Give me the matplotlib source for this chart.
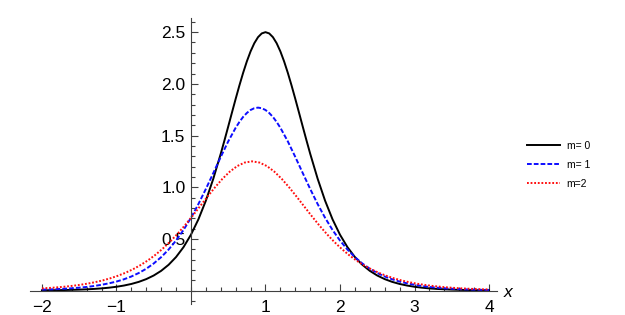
import numpy as np
import matplotlib
matplotlib.use("Agg")
import matplotlib.pyplot as plt
from matplotlib.ticker import FixedLocator, MultipleLocator

plt.rcParams['font.family'] = ['Liberation Sans', 'DejaVu Sans']
plt.rcParams['lines.scale_dashes'] = False

# ---- values ----
# m = 0 (black, solid)
x_m0 = [-2.0, -1.9, -1.8, -1.7, -1.6, -1.5, -1.4, -1.3, -1.2, -1.1,
        -1.0, -0.9, -0.8, -0.7, -0.6, -0.5, -0.4, -0.3, -0.2, -0.1,
        0.0, 0.1, 0.2, 0.3,
        0.4, 0.45, 0.5, 0.55, 0.6, 0.65, 0.7, 0.75, 0.8, 0.85, 0.9, 0.95,
        1.0, 1.05, 1.1, 1.15, 1.2, 1.25, 1.3, 1.35, 1.4, 1.45, 1.5, 1.55,
        1.6,
        1.7, 1.8, 1.9, 2.0, 2.1, 2.2, 2.3, 2.4, 2.5, 2.6,
        2.7, 2.8, 2.9, 3.0, 3.1, 3.2, 3.3, 3.4, 3.5, 3.6,
        3.7, 3.8, 3.9, 4.0]
y_m0 = [0.0022, 0.0030, 0.0039, 0.0052, 0.0069, 0.0091, 0.0120, 0.0159,
        0.0210, 0.0278, 0.0367, 0.0485, 0.0639, 0.0842, 0.1108, 0.1456,
        0.1908, 0.2493, 0.3244, 0.4201, 0.5404, 0.6892, 0.8696, 1.0822,
        1.3242, 1.4537, 1.5868, 1.7215, 1.8549, 1.9842, 2.1061, 2.2171,
        2.3138, 2.3929, 2.4516, 2.4878, 2.5000, 2.4878, 2.4516, 2.3929,
        2.3138, 2.2171, 2.1061, 1.9842, 1.8549, 1.7215, 1.5868, 1.4537,
        1.3242,
        1.0822, 0.8696, 0.6892, 0.5404, 0.4201, 0.3244, 0.2493, 0.1908,
        0.1456, 0.1108, 0.0842, 0.0639, 0.0485, 0.0367, 0.0278, 0.0210,
        0.0159, 0.0120, 0.0091, 0.0069, 0.0052, 0.0039, 0.0030, 0.0022]

# m = 1 (blue, dashed)
x_m1 = [-2.0, -1.9, -1.8, -1.7, -1.6, -1.5, -1.4, -1.3, -1.2, -1.1,
        -1.0, -0.9, -0.8, -0.7, -0.6, -0.5, -0.4, -0.3, -0.2, -0.1,
        0.0, 0.1, 0.2, 0.3, 0.4, 0.5,
        0.6, 0.65, 0.7, 0.75, 0.8, 0.85, 0.9, 0.95, 1.0, 1.05, 1.1, 1.15,
        1.2,
        1.3, 1.4, 1.5, 1.6, 1.7, 1.8, 1.9, 2.0, 2.1, 2.2,
        2.3, 2.4, 2.5, 2.6, 2.7, 2.8, 2.9, 3.0, 3.1, 3.2,
        3.3, 3.4, 3.5, 3.6, 3.7, 3.8, 3.9, 4.0]
y_m1 = [0.009, 0.011, 0.014, 0.018, 0.022, 0.028, 0.035, 0.044, 0.056,
        0.070, 0.087, 0.109, 0.136, 0.170, 0.211, 0.262, 0.323, 0.397,
        0.484, 0.586, 0.704, 0.837, 0.983, 1.137, 1.293, 1.443,
        1.575, 1.631, 1.680, 1.718, 1.747, 1.764, 1.770, 1.764, 1.747,
        1.718, 1.680, 1.631, 1.575,
        1.443, 1.293, 1.137, 0.983, 0.837, 0.704, 0.586, 0.484, 0.397,
        0.323, 0.262, 0.211, 0.170, 0.136, 0.109, 0.087, 0.070, 0.056,
        0.044, 0.035, 0.028, 0.022, 0.018, 0.014, 0.011, 0.009, 0.007,
        0.006]

# m = 2 (red, dotted)
x_m2 = [-2.0, -1.98, -1.88, -1.78, -1.68, -1.58, -1.48, -1.38, -1.28,
        -1.18, -1.08, -0.98, -0.88, -0.78, -0.68, -0.58, -0.48, -0.38,
        -0.28, -0.18, -0.08, 0.02, 0.12, 0.22, 0.32, 0.42, 0.52, 0.62,
        0.72, 0.82, 0.92, 1.02, 1.12, 1.22, 1.32, 1.42, 1.52, 1.62, 1.72,
        1.82, 1.92, 2.02, 2.12, 2.22, 2.32, 2.42, 2.52, 2.62, 2.72, 2.82,
        2.92, 3.02, 3.12, 3.22, 3.32, 3.42, 3.52, 3.62, 3.72, 3.82, 3.92,
        4.0]
y_m2 = [0.0209, 0.0217, 0.0263, 0.0318, 0.0386, 0.0466, 0.0564, 0.0681,
        0.0822, 0.0991, 0.1193, 0.1433, 0.1718, 0.2055, 0.2450, 0.2909,
        0.3440, 0.4047, 0.4732, 0.5493, 0.6324, 0.7212, 0.8136, 0.9066,
        0.9966, 1.0792, 1.1499, 1.2041, 1.2383, 1.2500, 1.2383, 1.2041,
        1.1499, 1.0792, 0.9966, 0.9066, 0.8136, 0.7212, 0.6324, 0.5493,
        0.4732, 0.4047, 0.3440, 0.2909, 0.2450, 0.2055, 0.1718, 0.1433,
        0.1193, 0.0991, 0.0822, 0.0681, 0.0564, 0.0466, 0.0386, 0.0318,
        0.0263, 0.0217, 0.0179, 0.0148, 0.0122, 0.0104]

labels = ["m= 0", "m= 1", "m=2"]
x_major = [-2, -1, 1, 2, 3, 4]
y_major = [0.5, 1.0, 1.5, 2.0, 2.5]

W, H = 625, 315
fig = plt.figure(figsize=(W / 100, H / 100), dpi=100)
ax = fig.add_axes([30 / W, 1 - 304 / H, 467 / W, 286 / H])
ax.set_xlim(-2.16, 4.107)
ax.set_ylim(-0.13, 2.637)

l0, = ax.plot(x_m0, y_m0, color='black', lw=1.4)
l1, = ax.plot(x_m1, y_m1, color=(0.05, 0.05, 1.0), lw=1.4, dashes=(3.4, 1.5))
l2, = ax.plot(x_m2, y_m2, color=(1.0, 0.05, 0.05), lw=1.4, dashes=(1.3, 1.3))

for s in ['top', 'right']:
    ax.spines[s].set_visible(False)
ax.spines['left'].set_position(('data', 0))
ax.spines['bottom'].set_position(('data', 0))
for s in ['left', 'bottom']:
    ax.spines[s].set_color('0.25')
    ax.spines[s].set_linewidth(0.8)

ax.xaxis.set_major_locator(FixedLocator(x_major))
ax.xaxis.set_minor_locator(MultipleLocator(0.2))
ax.yaxis.set_major_locator(FixedLocator(y_major))
ax.yaxis.set_minor_locator(MultipleLocator(0.1))
ax.set_xticklabels(['\u2212' + str(-v) if v < 0 else str(v) for v in x_major])
ax.set_yticklabels([f"{v:.1f}" for v in y_major])

ax.tick_params(which='both', direction='in', color='0.25', width=0.8,
               labelsize=12.5, labelcolor='black')
ax.tick_params(which='major', length=5)
ax.tick_params(which='minor', length=3)
ax.tick_params(axis='x', which='major', pad=7)
ax.tick_params(axis='y', which='major', pad=4)

ax.text(4.255, -0.02, 'x', style='italic', fontsize=12.5, ha='center',
        va='center', clip_on=False)

fig.legend([l0, l1, l2], labels, loc='upper left',
           bbox_to_anchor=(527 / W, 1 - 141 / H), frameon=False,
           fontsize=7.5, handlelength=3.2, handletextpad=0.6,
           labelspacing=0.85, borderpad=0, borderaxespad=0)

fig.savefig('out.png', dpi=100)
